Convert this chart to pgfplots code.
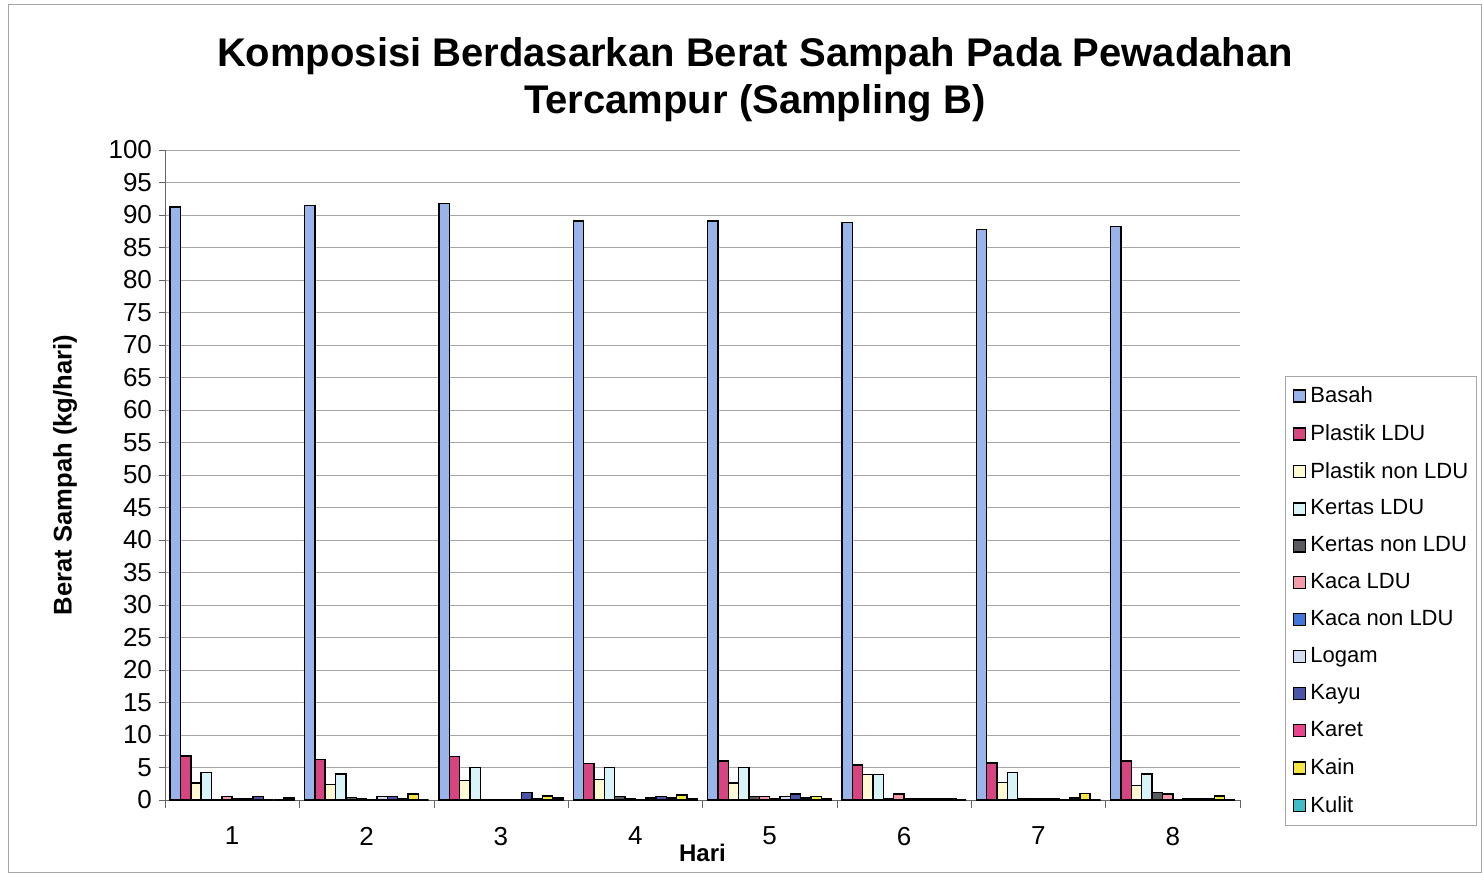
\documentclass[border=0pt]{standalone}
\usepackage{fontspec}
\setmainfont{Liberation Sans}
\usepackage{pgfplots}
\pgfplotsset{compat=1.18}
\definecolor{cBasah}{RGB}{153,180,232}
\definecolor{cPL}{RGB}{214,69,127}
\definecolor{cPN}{RGB}{255,250,210}
\definecolor{cKL}{RGB}{216,244,248}
\definecolor{cKN}{RGB}{90,90,96}
\definecolor{cKacaL}{RGB}{244,154,168}
\definecolor{cKacaN}{RGB}{63,120,216}
\definecolor{cLogam}{RGB}{212,220,244}
\definecolor{cKayu}{RGB}{74,85,168}
\definecolor{cKaret}{RGB}{232,70,140}
\definecolor{cKain}{RGB}{245,230,69}
\definecolor{cKulit}{RGB}{66,188,200}
\begin{document}
\begin{tikzpicture}
\useasboundingbox (0,0) rectangle (741pt,437pt);
\draw[gray!70] (4pt,1pt) rectangle (740.5pt,435pt);
\node[align=center,font=\bfseries\fontsize{20}{23.5}\selectfont] at (377.5pt,397pt)
  {Komposisi Berdasarkan Berat Sampah Pada Pewadahan\\Tercampur (Sampling B)};
\begin{axis}[
  at={(82.5pt,37pt)}, anchor=south west,
  scale only axis, width=537.5pt, height=325pt,
  ybar=0pt, bar width=0.077,
  xmin=0.5, xmax=8.5, ymin=0, ymax=100,
  ytick={0,5,...,100},
  xtick={1,...,8},
  axis x line*=bottom, axis y line*=left,
  axis line style={gray!80!black, -},
  tick align=outside, major tick length=3pt,
  xtick style={draw=none},
  ytick style={gray!80!black},
  extra x ticks={0.5,1.5,...,8.5},
  extra x tick labels={},
  extra x tick style={grid=none, xtick style={draw=gray!80!black}, major tick length=4pt},
  ymajorgrids, grid style={gray!70},
  /pgf/number format/assume math mode=true,
  ticklabel style={font=\fontsize{13}{15}\selectfont},
  xticklabel style={yshift=-7pt},
  xlabel={Hari}, ylabel={Berat Sampah (kg/hari)},
  xlabel style={at={(axis description cs:0.5,-0.082)}, anchor=center, font=\bfseries\fontsize{12}{14}\selectfont},
  ylabel style={at={(axis description cs:-0.093,0.5)}, anchor=center, font=\bfseries\fontsize{12.8}{14}\selectfont},
  legend style={at={(1.0419,0.652)}, anchor=north west, draw=gray!70,
    font=\fontsize{11}{12}\selectfont, row sep=5.4pt, cells={anchor=west},
    inner ysep=3pt, inner xsep=2pt},
  legend image code/.code={\path[draw=none,fill=none] (0pt,0pt) -- (8.5pt,0pt);\draw[#1] (2pt,-3pt) rectangle (8pt,3pt);},
  every axis plot/.append style={draw=black, line width=0.7pt},
]
\addplot[fill=cBasah] coordinates {(1,91.2)(2,91.5)(3,91.8)(4,89.1)(5,89.1)(6,88.8)(7,87.8)(8,88.2)};
\addplot[fill=cPL] coordinates {(1,6.8)(2,6.2)(3,6.7)(4,5.6)(5,6.0)(6,5.4)(7,5.7)(8,6.0)};
\addplot[fill=cPN] coordinates {(1,2.6)(2,2.4)(3,3.0)(4,3.2)(5,2.6)(6,3.9)(7,2.7)(8,2.2)};
\addplot[fill=cKL] coordinates {(1,4.2)(2,4.0)(3,5.0)(4,5.0)(5,5.0)(6,3.9)(7,4.2)(8,4.0)};
\addplot[fill=cKN] coordinates {(1,0.1)(2,0.4)(3,0.1)(4,0.5)(5,0.5)(6,0.2)(7,0.2)(8,1.2)};
\addplot[fill=cKacaL] coordinates {(1,0.5)(2,0.2)(3,0.1)(4,0.2)(5,0.5)(6,0.9)(7,0.2)(8,0.9)};
\addplot[fill=cKacaN] coordinates {(1,0.2)(2,0.0)(3,0.1)(4,0.0)(5,0.2)(6,0.2)(7,0.2)(8,0.0)};
\addplot[fill=cLogam] coordinates {(1,0.2)(2,0.5)(3,0.1)(4,0.3)(5,0.5)(6,0.2)(7,0.2)(8,0.2)};
\addplot[fill=cKayu] coordinates {(1,0.5)(2,0.5)(3,1.2)(4,0.5)(5,0.9)(6,0.2)(7,0.0)(8,0.2)};
\addplot[fill=cKaret] coordinates {(1,0.0)(2,0.2)(3,0.2)(4,0.3)(5,0.3)(6,0.2)(7,0.3)(8,0.2)};
\addplot[fill=cKain] coordinates {(1,0.0)(2,0.9)(3,0.6)(4,0.8)(5,0.5)(6,0.2)(7,1.0)(8,0.6)};
\addplot[fill=cKulit] coordinates {(1,0.3)(2,0.0)(3,0.3)(4,0.2)(5,0.2)(6,0.0)(7,0.0)(8,0.0)};
\legend{Basah,Plastik LDU,Plastik non LDU,Kertas LDU,Kertas non LDU,Kaca LDU,Kaca non LDU,Logam,Kayu,Karet,Kain,Kulit}
\end{axis}
\end{tikzpicture}
\end{document}
